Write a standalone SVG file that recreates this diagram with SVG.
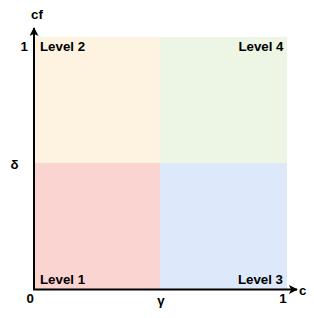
<svg xmlns="http://www.w3.org/2000/svg" width="314" height="318" viewBox="0 0 314 318">
<style>
text{font-family:"Liberation Sans",Arial,sans-serif;font-weight:bold;font-size:13.3px;fill:#000}
.end{text-anchor:end}
.mid{text-anchor:middle}
.ax{stroke:#000;stroke-width:2;fill:none}
</style>
<defs>
<marker id="arr" viewBox="0 0 10 10" refX="9" refY="5" markerWidth="4.5" markerHeight="4.5" orient="auto" markerUnits="strokeWidth">
<path d="M0,0 L10,5 L0,10 L2.5,5 Z" fill="#000"/>
</marker>
</defs>
<rect width="314" height="318" fill="#fff"/>
<g id="level2"><rect x="34" y="37" width="126" height="126" fill="#fef3e1"/><text x="40" y="51">Level 2</text></g>
<g id="level4"><rect x="160" y="37" width="127" height="126" fill="#edf6e5"/><text class="end" x="283.5" y="51">Level 4</text></g>
<g id="level1"><rect x="34" y="163" width="126" height="126" fill="#fad4d1"/><text x="40" y="284">Level 1</text></g>
<g id="level3"><rect x="160" y="163" width="127" height="126" fill="#dde8fb"/><text class="end" x="283" y="284">Level 3</text></g>
<g id="connectors">
<path class="ax" d="M34,290 L34,28" marker-end="url(#arr)"/>
<path class="ax" d="M33,289.5 L297,289.5" marker-end="url(#arr)"/>
</g>
<g id="labels">
<text x="31" y="19">cf</text>
<text class="end" x="28" y="51">1</text>
<text x="10.5" y="168.5">δ</text>
<text x="26.5" y="303">0</text>
<text class="mid" x="161" y="305">γ</text>
<text class="mid" x="283" y="303">1</text>
<text x="299" y="295">c</text>
</g>
</svg>
